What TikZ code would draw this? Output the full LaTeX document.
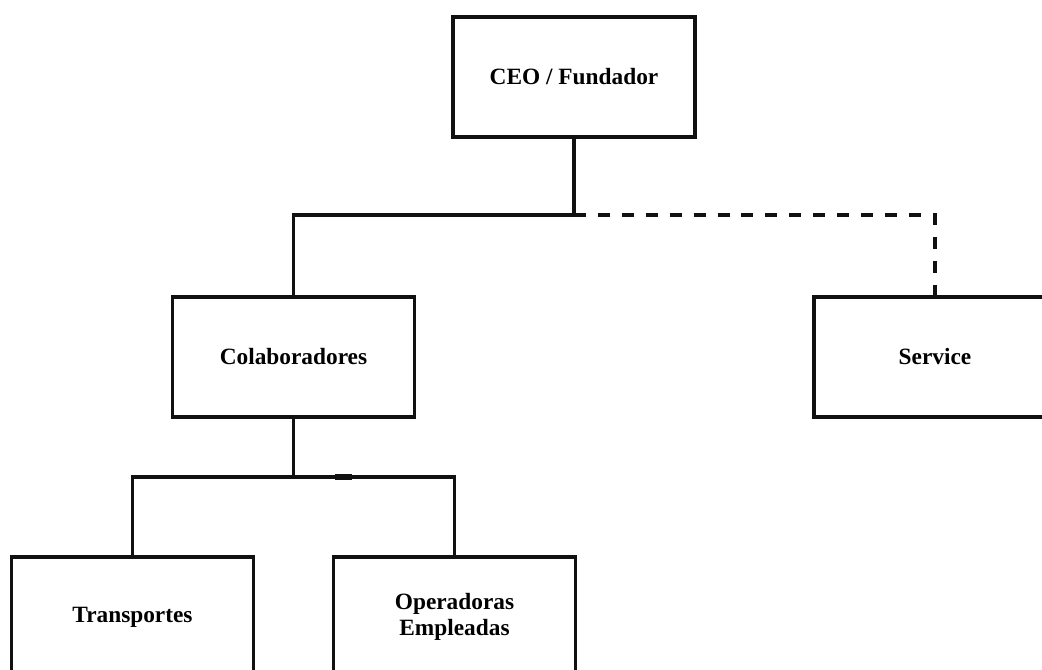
\documentclass[tikz,border=0pt]{standalone}
\usepackage{fontspec}
\setmainfont{Liberation Serif}
\usepackage{tikz}
\usepackage{xcolor}
\definecolor{linecolore}{HTML}{111111}
\colorlet{linecolor}{linecolore}
\tikzstyle{rolebox} = [
    draw=linecolor,
    fill=white,
    line width=2.6pt,
    rectangle,
    minimum width=181.5pt,
    minimum height=90pt,
    align=center,
    font=\fontsize{17.5}{20}\selectfont\bfseries
    ]
\tikzstyle{link} = [
    draw=linecolor,
    line width=2.6pt
    ]
\tikzstyle{duelink} = [
    link,
    dash pattern=on 9pt off 8.94pt
    ]

\begin{document}
\begin{tikzpicture}[x=0.75pt,y=-0.75pt]
\useasboundingbox (0,0) rectangle (1042,669);
\node [rolebox] (ceo) at (574,77) {CEO / Fundador};
\node [rolebox] (colab) at (293.5,357) {Colaboradores};
\node [rolebox] (service) at (935,357) {Service};
\node [rolebox] (trans) at (132.5,617) {Transportes};
\node [rolebox] (oper) at (454.5,617) {Operadoras\\Empleadas};

\coordinate (top) at (574,215);
\coordinate (mid) at (293.5,477);

\draw [link] (ceo.south) -- (top) -| (colab.north);
\draw [duelink] (top) -| (service.north);
\draw [link] (colab.south) -- (mid);
\draw [link] (mid) -| (trans.north);
\draw [link] (mid) -| (oper.north);
\draw [link, line width=4pt] ([xshift=31pt]mid) -- ([xshift=44pt]mid);
\end{tikzpicture}
\end{document}
